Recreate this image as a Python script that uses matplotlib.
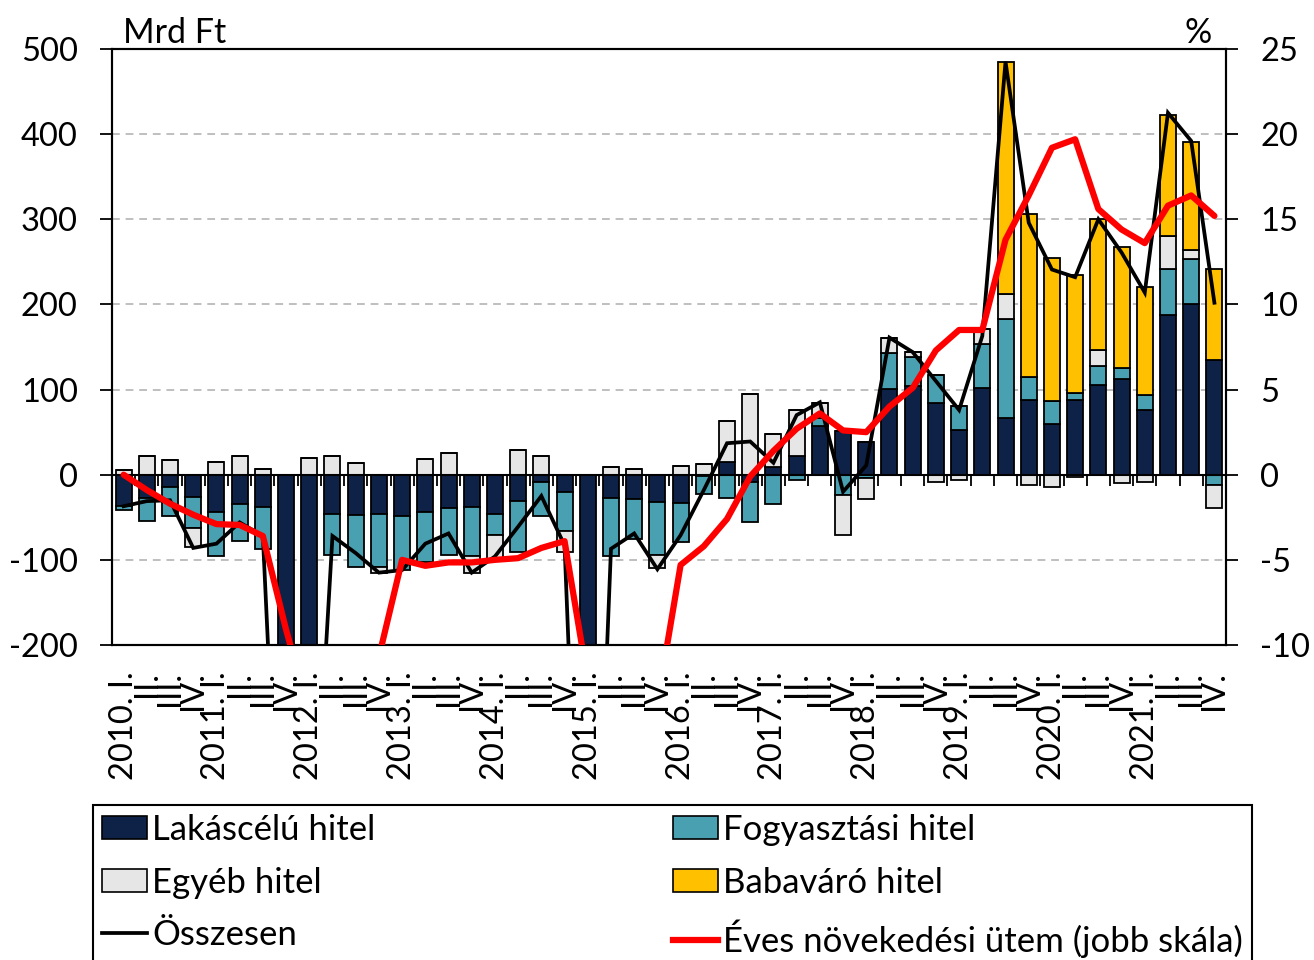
import numpy as np
import matplotlib
matplotlib.use("Agg")
import matplotlib.pyplot as plt
from matplotlib.patches import Patch
from matplotlib.lines import Line2D

plt.rcParams['font.family'] = ['Lato', 'DejaVu Sans']
plt.rcParams['font.size'] = 23.5
plt.rcParams['axes.unicode_minus'] = False

years = list(range(2010, 2022))
quarters = ['I.', 'II.', 'III.', 'IV.']
tick_labels = [f"{y}. {q}" if q == 'I.' else q for y in years for q in quarters]

lakas = [-37, -27, -14, -26, -44, -34, -38, -650, -560, -46, -47, -46,
         -49, -44, -39, -38, -46, -31, -9, -20, -770, -27, -28, -32,
         -33, -2, 14.5, -9, 8.6, 21.5, 57.6, 51.8, 38.4, 100.8, 104.7, 84.3,
         53, 102, 66.7, 87.5, 60, 88, 105, 112, 75.7, 188, 200, 135]
fogy = [-5, -27, -34, -37, -52, -44, -49, 0, 0, -48, -61, -62,
        -63, -58, -55, -57, -25, -60, -40, -46, 0, -69, -47, -62,
        -46.5, -21, -27, -46, -34.5, -6, 9, -23.5, -4, 41.6, 33.7, 33.3,
        28, 51.8, 115.7, 27, 27, 8, 23, 13.7, 17.6, 53.7, 53, -12.5]
egyeb = [6, 21.5, 17, -22, 14.5, 22, 7, 0, 20, 21.6, 13.7, -7,
         0, 19, 25, -20, -29, 29, 22, -24.5, 0, 9, 6.7, -16,
         10, 12.5, 49, 95, 39, 54.5, 17.6, -47.8, -25, 17.6, 5.9, -9,
         -6, 17.6, 29.4, -12.5, -15, -3, 19, -10, -8.6, 39, 10.6, -26.5]
babavaro = [0] * 38 + [272.5, 192, 167, 139, 153, 142, 127.5, 142, 127.5, 107]
osszesen = [-37, -31, -30, -86, -81, -56, -72, -650, -540, -72, -92, -115,
            -112, -81, -69, -115, -96, -61, -25, -83, -770, -87, -69, -111,
            -71, -18, 37, 39, 14, 70, 85, -20, 11, 161, 144, 110,
            76, 163, 485, 296, 241, 232, 300, 261, 214, 425, 392, 202]
eves = [0, -0.9, -1.7, -2.35, -2.9, -2.95, -3.6, -9.1, -14, -14, -13, -10.7,
        -5.0, -5.35, -5.15, -5.15, -5.0, -4.9, -4.3, -3.9, -12.1, -13, -13.5, -13.4,
        -5.3, -4.2, -2.6, -0.1, 1.4, 2.7, 3.6, 2.6, 2.5, 4.0, 5.1, 7.3,
        8.5, 8.5, 13.8, 16.4, 19.2, 19.7, 15.6, 14.4, 13.6, 15.8, 16.4, 15.2]

c_lakas = '#0E2147'
c_fogy = '#48A0B0'
c_egyeb = '#E6E6E6'
c_baba = '#FFC000'

fig = plt.figure(figsize=(13.14, 9.6), dpi=100)
ax = fig.add_axes([112/1314, 1-645/960, (1226-112)/1314, (645-49)/960])
x = np.arange(len(lakas))

ax.set_axisbelow(True)
ax.yaxis.grid(True, linestyle=(0, (4, 3)), color='#BFBFBF', lw=1.4)

pos_b = np.zeros(len(x))
neg_b = np.zeros(len(x))
for vals, col in [(lakas, c_lakas), (fogy, c_fogy), (egyeb, c_egyeb), (babavaro, c_baba)]:
    v = np.array(vals, dtype=float)
    bottoms = np.where(v >= 0, pos_b, neg_b)
    ax.bar(x, v, bottom=bottoms, width=0.69, color=col, edgecolor='black', linewidth=1.3, zorder=2)
    pos_b = pos_b + np.where(v > 0, v, 0)
    neg_b = neg_b + np.where(v < 0, v, 0)

ax.axhline(0, color='black', lw=1.5, zorder=3)
ax.vlines(np.arange(len(x) + 1) - 0.5, -13, 0, color='black', lw=1.3, zorder=3)
ax.plot(x, osszesen, color='black', lw=2.7, zorder=4, solid_joinstyle='miter')

ax.set_xlim(-0.5, len(x) - 0.5)
ax.set_ylim(-200, 500)
ax.set_yticks(np.arange(-200, 501, 100))
ax.set_xticks(x)
ax.set_xticklabels(tick_labels, rotation=90, va='top', ha='center')
ax.tick_params(axis='x', length=0, pad=19)
ax.tick_params(axis='y', direction='out', length=8.6, width=1.3, pad=16)
for s in ax.spines.values():
    s.set_linewidth(1.5)
    s.set_color('black')

ax2 = ax.twinx()
ax2.plot(x, eves, color='#FF0000', lw=4.5, zorder=5, solid_capstyle='round')
ax2.set_ylim(-10, 25)
ax2.set_yticks(np.arange(-10, 26, 5))
ax2.tick_params(axis='y', direction='out', length=8.6, width=1.3, pad=16)
for s in ax2.spines.values():
    s.set_linewidth(1.5)

ax.text(0.01, 1.0, 'Mrd Ft', transform=ax.transAxes, ha='left', va='bottom', fontsize=24.5)
ax.text(0.987, 1.0, '%', transform=ax.transAxes, ha='right', va='bottom', fontsize=24.5)

handles = [
    Patch(facecolor=c_lakas, edgecolor='black', lw=1.2),
    Patch(facecolor=c_egyeb, edgecolor='black', lw=1.2),
    Line2D([], [], color='black', lw=2.7),
    Patch(facecolor=c_fogy, edgecolor='black', lw=1.2),
    Patch(facecolor=c_baba, edgecolor='black', lw=1.2),
    Line2D([], [], color='#FF0000', lw=4.5),
]
labels = ['Lakáscélú hitel', 'Egyéb hitel', 'Összesen',
          'Fogyasztási hitel', 'Babaváró hitel', 'Éves növekedési ütem (jobb skála)']
leg = fig.legend(handles, labels, ncol=2, mode='expand', loc='upper left',
                 bbox_to_anchor=(93/1314, 0, (1252-93)/1314, 1-805/960),
                 borderaxespad=0, fancybox=False, edgecolor='black', framealpha=1,
                 handlelength=1.3, handleheight=0.65, handletextpad=0.15,
                 labelspacing=0.6, borderpad=0.25, fontsize=25)
leg.get_frame().set_linewidth(1.5)

fig.savefig('out.png', dpi=100)
